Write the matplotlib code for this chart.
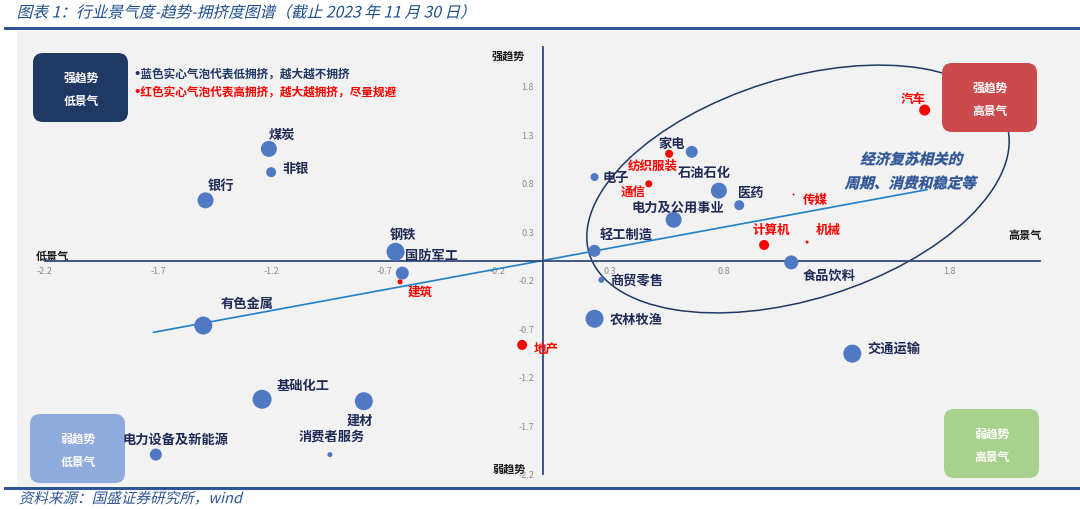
import numpy as np
import matplotlib
matplotlib.use("Agg")
import matplotlib.pyplot as plt
from matplotlib.patches import Ellipse, FancyBboxPatch, Rectangle, PathPatch
from matplotlib.textpath import TextPath
from matplotlib.font_manager import FontProperties
from matplotlib.transforms import Affine2D

plt.rcParams['font.family'] = ['Noto Sans CJK SC', 'DejaVu Sans']

# ---- data (x: 景气度, y: 趋势, bubble: 拥挤度气泡大小) ----
blue_names = ["煤炭", "非银", "银行", "钢铁", "国防军工", "有色金属", "基础化工", "建材",
              "电力设备及新能源", "消费者服务", "电子", "家电", "石油石化", "医药",
              "电力及公用事业", "轻工制造", "商贸零售", "食品饮料", "农林牧渔", "交通运输"]
blue_x = [-1.21, -1.20, -1.49, -0.65, -0.62, -1.50, -1.24, -0.79, -1.71, -0.94,
          0.23, 0.66, 0.78, 0.87, 0.58, 0.23, 0.26, 1.10, 0.23, 1.37]
blue_y = [1.15, 0.91, 0.62, 0.09, -0.13, -0.67, -1.43, -1.45, -2.00, -2.00,
          0.86, 1.12, 0.72, 0.57, 0.42, 0.10, -0.20, -0.02, -0.60, -0.96]
blue_bubble = [8, 5, 8, 9, 6.5, 9, 9.5, 9, 6, 2.5, 4, 6, 8, 5, 8, 6, 3, 7, 9, 9]

red_names = ["汽车", "纺织服装", "通信", "传媒", "计算机", "机械", "建筑", "地产"]
red_x = [1.69, 0.56, 0.47, 1.11, 0.98, 1.17, -0.63, -0.09]
red_y = [1.55, 1.10, 0.79, 0.68, 0.16, 0.19, -0.22, -0.87]
red_bubble = [5.5, 4, 3.5, 1, 5, 1.5, 2.5, 5]

trend_x = [-1.72, 1.70]
trend_y = [-0.74, 0.73]

ticks = [-2.2, -1.7, -1.2, -0.7, -0.2, 0.3, 0.8, 1.3, 1.8]
# 1.3 on the x axis sits under the 食品饮料 label in the original
xtick_labels = ["-2.2", "-1.7", "-1.2", "-0.7", "-0.2", "0.3", "0.8", "", "1.8"]
ytick_labels = ["-2.2", "-1.7", "-1.2", "-0.7", "-0.2", "0.3", "0.8", "1.3", "1.8"]

# label offsets in pixels (dx, dy up)
blue_off = [(13, 15), (25, 4), (15, 15), (7, 18), (29, 18), (44, 23), (41, 14), (-4, -19),
            (20, 16), (2, 19), (21, 0), (-20, 9), (-15, 19), (12, 13),
            (4, 13), (32, 17), (35, 0), (38, -12), (42, 0), (42, 6)]
red_off = [(-12, 12), (-16, -12), (-16, -8), (22, -5), (7, 16), (21, 13), (20, -9), (24, -3)]

NAVY = '#1F2A55'
BLUE = '#5079C4'
RED = '#FF0000'
PX = 0.72  # px -> pt at dpi 100


def slanted(ax, x, y, s, size, color, weight='normal', ha='left', shear=14):
    fp = FontProperties(family='Noto Sans CJK SC', weight=weight)
    tp = TextPath((0, 0), s, size=size, prop=fp)
    ext = tp.get_extents()
    k = 100 / 72
    w = ext.width * k
    x0 = x - w / 2 if ha == 'center' else x
    tr = (Affine2D().translate(0, -size * 0.35).skew_deg(shear, 0)
          .scale(k, -k).translate(x0, y) + ax.transData)
    ax.add_patch(PathPatch(tp, transform=tr, fc=color, ec=color,
                           lw=0.25 if weight == 'bold' else 0))


fig = plt.figure(figsize=(10.8, 5.1), dpi=100)

# background / decoration layer in pixel coordinates
bg = fig.add_axes([0, 0, 1, 1], zorder=0)
bg.set_xlim(0, 1080)
bg.set_ylim(510, 0)
bg.axis('off')
bg.add_patch(Rectangle((17, 32), 1063, 455, fc='#F2F2F2', ec='none'))
bg.plot([5, 1080], [29, 29], color='#2E5597', lw=2.2)
bg.plot([5, 1080], [489, 489], color='#2E5597', lw=2.2)

slanted(bg, 18, 13, "图表 1：行业景气度-趋势-拥挤度图谱（截止 2023 年 11 月 30 日）", 11.3, '#1F4E8C')
slanted(bg, 20, 499, "资料来源：国盛证券研究所，wind", 10.5, '#2F5597')

bg.add_patch(Ellipse((798, 190), 437, 221, angle=-17.3, fill=False, ec='#1F3864', lw=1.1))
slanted(bg, 912, 160, "经济复苏相关的", 10.5, '#2F5597', weight='bold', ha='center')
slanted(bg, 911, 184, "周期、消费和稳定等", 10.5, '#2F5597', weight='bold', ha='center')

boxes = [((33, 54), '#203864', "强趋势", "低景气"),
         ((942, 64), '#CB4A4C', "强趋势", "高景气"),
         ((30, 415), '#8FAADC', "弱趋势", "低景气"),
         ((944, 410), '#A9D18E', "弱趋势", "高景气")]
for (bx, by), c, t1, t2 in boxes:
    bg.add_patch(FancyBboxPatch((bx, by), 95, 69, boxstyle="round,pad=0,rounding_size=10",
                                fc=c, ec='none', zorder=3))
    bg.text(bx + 48, by + 24, t1, color='white', fontsize=8.5, fontweight='bold',
            ha='center', va='center', zorder=4)
    bg.text(bx + 48, by + 47, t2, color='white', fontsize=8.5, fontweight='bold',
            ha='center', va='center', zorder=4)

bullet_font = ['DejaVu Sans', 'Noto Sans CJK SC']
bg.text(133, 74, "•蓝色实心气泡代表低拥挤，越大越不拥挤", color='#1F3864', fontsize=8.4,
        fontweight='bold', va='center', family=bullet_font)
bg.text(133, 92, "•红色实心气泡代表高拥挤，越大越拥挤，尽量规避", color=RED, fontsize=8.4,
        fontweight='bold', va='center', family=bullet_font)

# main chart
ax = fig.add_axes([45 / 1080, 35 / 510, 995 / 1080, 427 / 510], zorder=1)
ax.patch.set_visible(False)
ax.set_xlim(-2.2, 2.2)
ax.set_ylim(-2.2, 2.2)
for side in ['top', 'right']:
    ax.spines[side].set_visible(False)
ax.spines['left'].set_position('zero')
ax.spines['bottom'].set_position('zero')
for side in ['left', 'bottom']:
    ax.spines[side].set_color('#2F4A7F')
    ax.spines[side].set_linewidth(1.3)
ax.set_xticks(ticks)
ax.set_yticks(ticks)
ax.set_xticklabels(xtick_labels)
ax.set_yticklabels(ytick_labels)
ax.tick_params(length=0, labelsize=6.5, labelcolor='#8C8C8C')
ax.tick_params(axis='x', pad=4)
ax.tick_params(axis='y', pad=6)

ax.plot(trend_x, trend_y, color='#1F7FC8', lw=1.2, zorder=2)

ax.scatter(blue_x, blue_y, s=[(b * 1.44) ** 2 for b in blue_bubble], color=BLUE,
           edgecolors='none', zorder=3)
ax.scatter(red_x, red_y, s=[(b * 1.44) ** 2 for b in red_bubble], color=RED,
           edgecolors='none', zorder=3)

for n, x, y, (dx, dy) in zip(blue_names, blue_x, blue_y, blue_off):
    ax.annotate(n, (x, y), xytext=(dx * PX, dy * PX), textcoords='offset points',
                ha='center', va='center', fontsize=9.5, fontweight='bold', color=NAVY,
                zorder=4)
for n, x, y, (dx, dy) in zip(red_names, red_x, red_y, red_off):
    ax.annotate(n, (x, y), xytext=(dx * PX, dy * PX), textcoords='offset points',
                ha='center', va='center', fontsize=9, fontweight='bold', color=RED, zorder=4)

corner = dict(fontsize=8, fontweight='bold', color='#1A1A1A', ha='center', va='center')
bg.text(52, 256, "低景气", **corner)
bg.text(1025, 235, "高景气", **corner)
bg.text(508, 56, "强趋势", **corner)
bg.text(509, 469, "弱趋势", zorder=5, **corner)

fig.savefig("out.png", dpi=100)
